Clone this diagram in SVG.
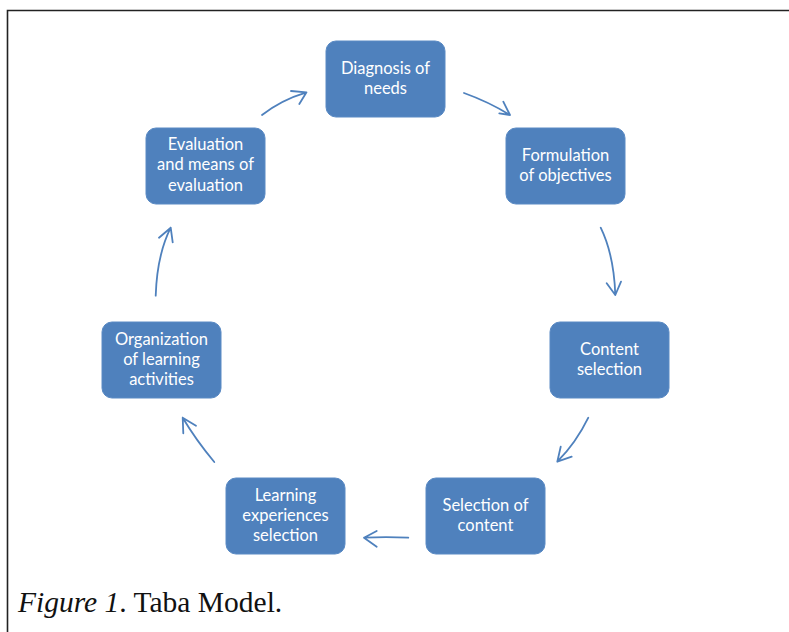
<svg xmlns="http://www.w3.org/2000/svg" width="789" height="632" viewBox="0 0 789 632">
<style>
.box{fill:#4F81BD;stroke:#5A8AC4;stroke-width:1}
.lbl{font-family:Lato,"Open Sans","Liberation Sans",sans-serif;font-size:16.5px;fill:#FFFFFF;text-anchor:middle}
.arr{fill:none;stroke:#4F81BD;stroke-width:1.8;stroke-linecap:round;stroke-linejoin:round}
.cap{font-family:"Liberation Serif","Times New Roman",serif;font-size:29.5px;fill:#111}
</style>
<rect width="789" height="632" fill="#FFFFFF"/>
<path d="M7.5,632 V10.5 H789" fill="none" stroke="#222" stroke-width="1.6"/>
<g id="connectors">
<path class="arr" d="M262,115 Q281,100 306.5,92.3 M291,91 L306.5,92.3 L299.3,104"/>
<path class="arr" d="M464,93 Q489,102 510,115 M499.3,113.3 L510,115 L503.3,101.7"/>
<path class="arr" d="M600.7,227.7 Q614,255 615.3,295 M606.7,283.3 L615.3,295 L621,281.7"/>
<path class="arr" d="M588.3,417.7 Q576,443 557.3,461.7 M560.7,446.7 L557.3,461.7 L571.7,456.7"/>
<path class="arr" d="M408.3,537.7 Q386,536.7 364,537.7 M376.7,531 L364,537.7 L376.7,546.7"/>
<path class="arr" d="M214.3,462 Q196,440 182.7,417.7 M183.3,433.3 L182.7,417.7 L196,425.7"/>
<path class="arr" d="M155.7,295.7 Q157,255 170.7,227.7 M159,237.7 L170.7,227.7 L172.7,242.3"/>
</g>
<g id="n1"><rect class="box" x="326" y="41" width="119" height="76" rx="10"/>
<text class="lbl" x="385.5" y="74">Diagnosis of</text><text class="lbl" x="385.5" y="94">needs</text></g>
<g id="n2"><rect class="box" x="506" y="128" width="119" height="76" rx="10"/>
<text class="lbl" x="565.5" y="161">Formulation</text><text class="lbl" x="565.5" y="181">of objectives</text></g>
<g id="n3"><rect class="box" x="550" y="322" width="119" height="76" rx="10"/>
<text class="lbl" x="609.5" y="355">Content</text><text class="lbl" x="609.5" y="375">selection</text></g>
<g id="n4"><rect class="box" x="426" y="478" width="119" height="76" rx="10"/>
<text class="lbl" x="485.5" y="511">Selection of</text><text class="lbl" x="485.5" y="531">content</text></g>
<g id="n5"><rect class="box" x="226" y="478" width="119" height="76" rx="10"/>
<text class="lbl" x="285.5" y="501">Learning</text><text class="lbl" x="285.5" y="521">experiences</text><text class="lbl" x="285.5" y="541">selection</text></g>
<g id="n6"><rect class="box" x="102" y="322" width="119" height="76" rx="10"/>
<text class="lbl" x="161.5" y="345">Organization</text><text class="lbl" x="161.5" y="365">of learning</text><text class="lbl" x="161.5" y="385">activities</text></g>
<g id="n7"><rect class="box" x="146" y="128" width="119" height="76" rx="10"/>
<text class="lbl" x="205.5" y="150">Evaluation</text><text class="lbl" x="205.5" y="170">and means of</text><text class="lbl" x="205.5" y="191">evaluation</text></g>
<text class="cap" x="18" y="612"><tspan font-style="italic">Figure 1</tspan>. Taba Model.</text>
</svg>
